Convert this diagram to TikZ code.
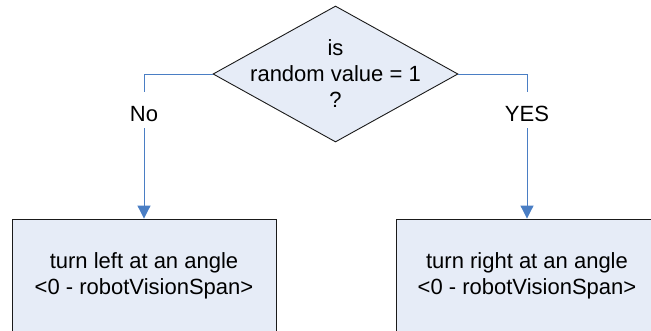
\documentclass[tikz,border=0pt]{standalone}
\usepackage{fontspec}
\setmainfont{Liberation Sans}
\usetikzlibrary{shapes.geometric,arrows.meta}
\definecolor{boxfill}{HTML}{E6ECF7}
\definecolor{edge}{HTML}{1A1A1A}
\definecolor{flow}{HTML}{4A7EC4}
\begin{document}
\begin{tikzpicture}[x=1pt,y=-1pt,
  every node/.style={font=\fontsize{22}{26}\selectfont},
  decision/.style={diamond,draw=edge,fill=boxfill,line width=0.9pt,
    minimum width=245pt,minimum height=136pt,inner sep=0pt,aspect=1.8},
  action/.style={rectangle,draw=edge,fill=boxfill,line width=0.9pt,
    minimum height=114pt,align=center,inner sep=0pt},
  branch/.style={draw=flow,line width=1pt,-{Triangle[length=13pt,width=13pt]}},
  answer/.style={fill=white,inner xsep=2pt,inner ysep=0pt,
    text height=29.7pt,text depth=6.3pt,anchor=base}]
  \useasboundingbox (0,0) rectangle (651,330);
  \clip (0,0) rectangle (651,330);

  % decision
  \node[decision] (dec) at (335.5,74) {};
  \node[align=center,inner sep=0pt] (dectext) at (335.5,74) {is\\random value = 1\\?};

  % outcomes
  \node[action,minimum width=264pt] (lbox) at (144,276)
    {turn left at an angle\\<0 - robotVisionSpan>};
  \node[action,minimum width=262pt] (rbox) at (527,276)
    {turn right at an angle\\<0 - robotVisionSpan>};

  % branches
  \draw[branch] (dec.west) -| (lbox.north);
  \draw[branch] (dec.east) -| (rbox.north);

  \node[answer] (no) at (144,121.7) {No};
  \node[answer] (yes) at (527,121.7) {YES};
\end{tikzpicture}
\end{document}
